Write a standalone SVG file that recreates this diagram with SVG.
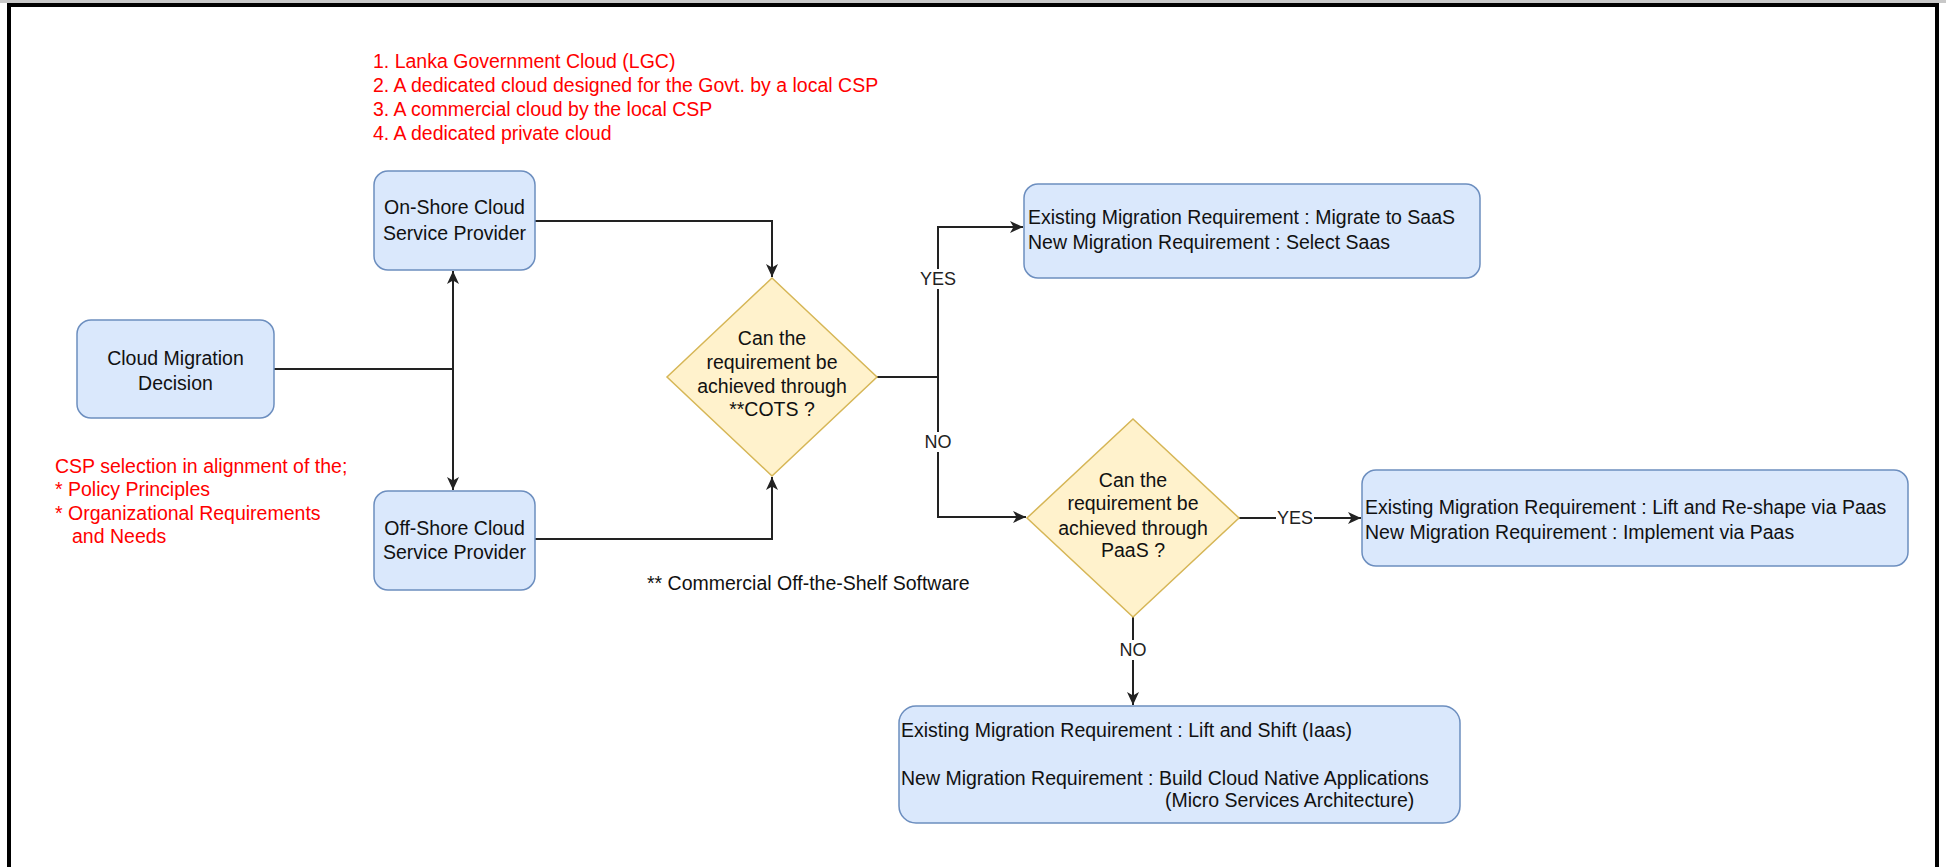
<svg xmlns="http://www.w3.org/2000/svg" width="1946" height="867" viewBox="0 0 1946 867">
<style>
.box{fill:#dae8fc;stroke:#6c8ebf;stroke-width:1.5}
.dia{fill:#fff2cc;stroke:#d6b656;stroke-width:1.5}
.t{font-family:"Liberation Sans",Arial,sans-serif;font-size:19.5px;fill:#111}
.c{text-anchor:middle}
.red{font-family:"Liberation Sans",Arial,sans-serif;font-size:19.5px;fill:#ff0000}
.lbl{font-family:"Liberation Sans",Arial,sans-serif;font-size:18px;fill:#222;text-anchor:middle}
.edge{fill:none;stroke:#222;stroke-width:2}
</style>
<defs>
<marker id="arr" markerWidth="14" markerHeight="12" refX="13" refY="6" orient="auto" markerUnits="userSpaceOnUse">
<path d="M0,0 L13,6 L0,12 L3.5,6 Z" fill="#222"/>
</marker>
</defs>
<rect x="0" y="0" width="1946" height="867" fill="#fff"/>
<rect x="0" y="0" width="1946" height="3" fill="#c8c8c8"/>
<rect x="9" y="5" width="1928" height="900" fill="none" stroke="#000" stroke-width="4"/>

<g id="connectors">
<path class="edge" d="M274,369 H453 V271" marker-end="url(#arr)"/>
<path class="edge" d="M274,369 H453 V490" marker-end="url(#arr)"/>
<path class="edge" d="M535,221 H772 V277" marker-end="url(#arr)"/>
<path class="edge" d="M535,539 H772 V477" marker-end="url(#arr)"/>
<path class="edge" d="M877,377 H938 V227 H1023" marker-end="url(#arr)"/>
<path class="edge" d="M877,377 H938 V517 H1026" marker-end="url(#arr)"/>
<path class="edge" d="M1239,518 H1361" marker-end="url(#arr)"/>
<path class="edge" d="M1133,617 V705" marker-end="url(#arr)"/>
<rect x="919" y="269" width="38" height="20" fill="#fff"/>
<text class="lbl" x="938" y="285">YES</text>
<rect x="923" y="432" width="30" height="20" fill="#fff"/>
<text class="lbl" x="938" y="448">NO</text>
<rect x="1276" y="508" width="38" height="20" fill="#fff"/>
<text class="lbl" x="1295" y="524">YES</text>
<rect x="1118" y="640" width="30" height="20" fill="#fff"/>
<text class="lbl" x="1133" y="656">NO</text>
</g>

<g id="note-csp-options">
<text class="red" x="373" y="68">1. Lanka Government Cloud (LGC)</text>
<text class="red" x="373" y="92">2. A dedicated cloud designed for the Govt. by a local CSP</text>
<text class="red" x="373" y="116">3. A commercial cloud by the local CSP</text>
<text class="red" x="373" y="140">4. A dedicated private cloud</text>
</g>

<g id="note-csp-selection">
<text class="red" x="55" y="473">CSP selection in alignment of the;</text>
<text class="red" x="55" y="496">* Policy Principles</text>
<text class="red" x="55" y="520">* Organizational Requirements</text>
<text class="red" x="72" y="543">and Needs</text>
</g>

<g id="cloud-migration-decision">
<rect class="box" x="77" y="320" width="197" height="98" rx="14"/>
<text class="t c" x="175.5" y="365">Cloud Migration</text>
<text class="t c" x="175.5" y="390">Decision</text>
</g>

<g id="on-shore">
<rect class="box" x="374" y="171" width="161" height="99" rx="14"/>
<text class="t c" x="454.5" y="214">On-Shore Cloud</text>
<text class="t c" x="454.5" y="240">Service Provider</text>
</g>

<g id="off-shore">
<rect class="box" x="374" y="491" width="161" height="99" rx="14"/>
<text class="t c" x="454.5" y="535">Off-Shore Cloud</text>
<text class="t c" x="454.5" y="559">Service Provider</text>
</g>

<g id="cots-decision">
<polygon class="dia" points="772,278 877,377 772,476 667,377"/>
<text class="t c" x="772" y="345">Can the</text>
<text class="t c" x="772" y="369">requirement be</text>
<text class="t c" x="772" y="393">achieved through</text>
<text class="t c" x="772" y="416">**COTS ?</text>
</g>

<g id="cots-footnote">
<text class="t" x="647" y="590">** Commercial Off-the-Shelf Software</text>
</g>

<g id="saas-box">
<rect class="box" x="1024" y="184" width="456" height="94" rx="14"/>
<text class="t" x="1028" y="224">Existing Migration Requirement : Migrate to SaaS</text>
<text class="t" x="1028" y="249">New Migration Requirement : Select Saas</text>
</g>

<g id="paas-decision">
<polygon class="dia" points="1133,419 1239,518 1133,617 1027,518"/>
<text class="t c" x="1133" y="487">Can the</text>
<text class="t c" x="1133" y="510">requirement be</text>
<text class="t c" x="1133" y="535">achieved through</text>
<text class="t c" x="1133" y="557">PaaS ?</text>
</g>

<g id="paas-box">
<rect class="box" x="1362" y="470" width="546" height="96" rx="14"/>
<text class="t" x="1365" y="514">Existing Migration Requirement : Lift and Re-shape via Paas</text>
<text class="t" x="1365" y="539">New Migration Requirement : Implement via Paas</text>
</g>

<g id="iaas-box">
<rect class="box" x="899" y="706" width="561" height="117" rx="17"/>
<text class="t" x="901" y="737">Existing Migration Requirement : Lift and Shift (Iaas)</text>
<text class="t" x="901" y="785">New Migration Requirement : Build Cloud Native Applications</text>
<text class="t" x="1165" y="807">(Micro Services Architecture)</text>
</g>
</svg>
